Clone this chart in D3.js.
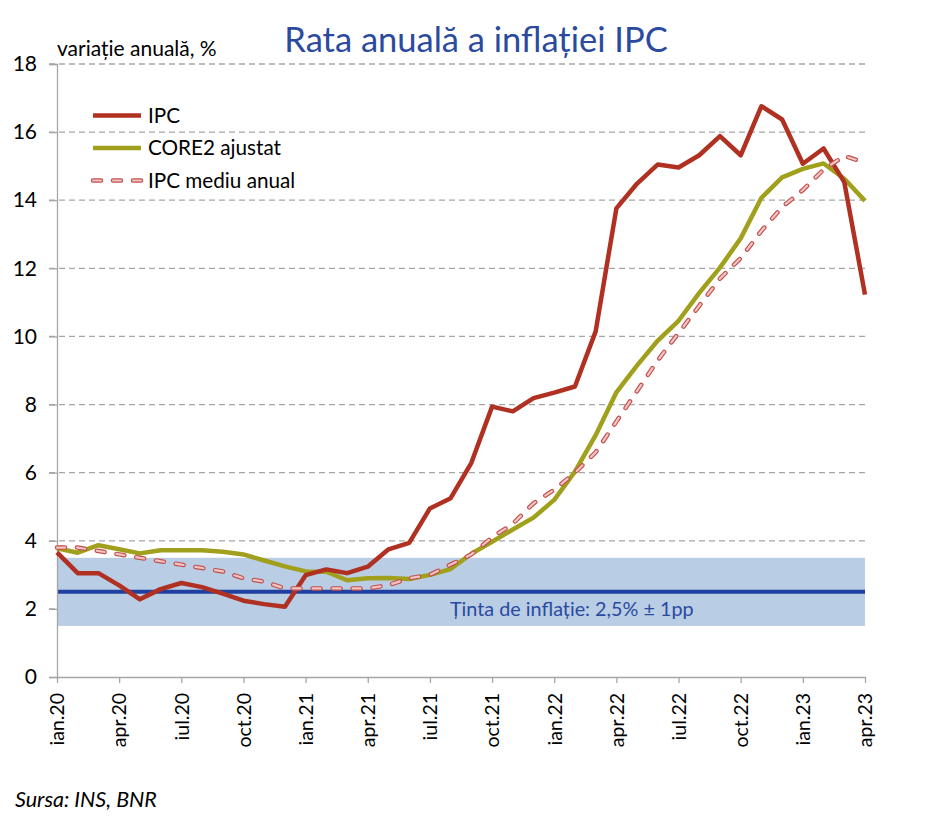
<!DOCTYPE html>
<html>
<head>
<meta charset="utf-8">
<script src="https://cdn.jsdelivr.net/npm/d3@7"></script>
<style>
  body { margin: 0; background: #fff; }
  text { font-family: Lato, "Open Sans", sans-serif; }
</style>
</head>
<body>
<script>
// months jan 2020 .. apr 2023
let monthNames = ['ian', 'feb', 'mar', 'apr', 'mai', 'iun', 'iul', 'aug', 'sep', 'oct', 'nov', 'dec'];
let months = [];
for (let yr = 20; yr <= 23; yr++) {
    monthNames.forEach(function (m) { months.push(m + '.' + yr); });
}
months = months.slice(0, 40);

let ipc = [3.66, 3.05, 3.05, 2.69, 2.28, 2.58, 2.76, 2.64, 2.45, 2.24, 2.14, 2.06,
           2.99, 3.16, 3.05, 3.24, 3.75, 3.94, 4.95, 5.25, 6.29, 7.94, 7.80, 8.19,
           8.35, 8.53, 10.15, 13.76, 14.49, 15.05, 14.96, 15.32, 15.88, 15.32, 16.76, 16.37,
           15.07, 15.52, 14.53, 11.23];

let core2 = [3.78, 3.65, 3.87, 3.75, 3.63, 3.72, 3.72, 3.72, 3.68, 3.60, 3.42, 3.25,
             3.10, 3.09, 2.84, 2.90, 2.91, 2.88, 3.00, 3.17, 3.62, 3.97, 4.33, 4.68,
             5.20, 6.03, 7.10, 8.36, 9.15, 9.88, 10.46, 11.28, 12.02, 12.88, 14.07, 14.67,
             14.92, 15.08, 14.63, 13.98];

let ipcMediu = [3.8, 3.8, 3.7, 3.6, 3.5, 3.4, 3.3, 3.2, 3.1, 2.9, 2.8, 2.6,
                2.6, 2.6, 2.6, 2.6, 2.7, 2.9, 3.0, 3.3, 3.6, 4.1, 4.5, 5.1,
                5.5, 6.0, 6.6, 7.5, 8.4, 9.3, 10.1, 10.9, 11.7, 12.3, 13.1, 13.8,
                14.3, 14.9, 15.3, 15.1];

let yTicks = [0, 2, 4, 6, 8, 10, 12, 14, 16, 18];
let xTickLabels = ['ian.20', 'apr.20', 'iul.20', 'oct.20', 'ian.21', 'apr.21', 'iul.21',
                   'oct.21', 'ian.22', 'apr.22', 'iul.22', 'oct.22', 'ian.23', 'apr.23'];

let target = 2.5;
let band = [1.5, 3.5];

let width = 932, height = 817;
let plotLeft = 57, plotRight = 865, plotTop = 64, plotBottom = 677;

let svg = d3.select('body')
    .append('svg')
        .attr('width', width)
        .attr('height', height);

let x = d3.scalePoint()
    .domain(months)
    .range([plotLeft, plotRight]);

let y = d3.scaleLinear()
    .domain([0, 18])
    .range([plotBottom, plotTop]);

// ============================================ GRID ===================================================================
svg.append('g')
    .selectAll('line')
    .data(yTicks.filter(function (d) { return d > 0; })).enter()
    .append('line')
        .attr('x1', plotLeft - 8)
        .attr('x2', plotRight)
        .attr('y1', function (d) { return y(d); })
        .attr('y2', function (d) { return y(d); })
        .attr('stroke', '#a6a6a6')
        .attr('stroke-width', 1.3)
        .attr('stroke-dasharray', '6,4');

// ============================================ BAND ===================================================================
svg.append('rect')
    .attr('x', plotLeft)
    .attr('width', plotRight - plotLeft)
    .attr('y', y(band[1]))
    .attr('height', y(band[0]) - y(band[1]))
    .attr('fill', '#b9cde5');

svg.append('line')
    .attr('x1', plotLeft)
    .attr('x2', plotRight)
    .attr('y1', y(target))
    .attr('y2', y(target))
    .attr('stroke', '#1f40a0')
    .attr('stroke-width', 4);

svg.append('text')
    .attr('x', 450)
    .attr('y', y(target) + 24)
    .attr('font-size', 19.8)
    .attr('fill', '#2a4aa0')
    .text('Ținta de inflație: 2,5% ± 1pp');

// ============================================ AXES ===================================================================
let yAxis = svg.append('g')
    .attr('transform', 'translate(' + plotLeft + ',0)')
    .call(d3.axisLeft(y).tickValues(yTicks).tickSize(8).tickPadding(12));
yAxis.select('.domain').attr('stroke', '#a6a6a6').attr('stroke-width', 1.3);
yAxis.selectAll('.tick line').attr('stroke', '#a6a6a6').attr('stroke-width', 1.3);
yAxis.selectAll('.tick text')
    .attr('font-family', 'Lato, sans-serif')
    .attr('font-size', 21)
    .attr('fill', '#000');

let xAxis = svg.append('g')
    .attr('transform', 'translate(0,' + plotBottom + ')')
    .call(d3.axisBottom(x).tickValues(xTickLabels).tickSize(6).tickSizeOuter(0));
xAxis.select('.domain').attr('stroke', '#a6a6a6').attr('stroke-width', 1.3);
xAxis.selectAll('.tick line').attr('stroke', '#a6a6a6').attr('stroke-width', 1.3);
xAxis.selectAll('.tick text')
    .attr('font-family', '"Open Sans", sans-serif')
    .attr('font-size', 19.5)
    .attr('fill', '#000')
    .attr('text-anchor', 'end')
    .attr('dy', '0.35em')
    .attr('transform', 'translate(0,16) rotate(-90)')
    .attr('x', 0)
    .attr('y', 0);

// ============================================ LINES ==================================================================
let lineGenerator = function (values) {
    return d3.line()
        .x(function (d, i) { return x(months[i]); })
        .y(function (d) { return y(d); })(values);
};

svg.append('path')
    .attr('fill', 'none')
    .attr('stroke', '#a1a01c')
    .attr('stroke-width', 4.5)
    .attr('stroke-linejoin', 'round')
    .attr('d', lineGenerator(core2));

svg.append('path')
    .attr('fill', 'none')
    .attr('stroke', '#b03022')
    .attr('stroke-width', 4.5)
    .attr('stroke-linejoin', 'round')
    .attr('d', lineGenerator(ipc));

svg.append('path')
    .attr('fill', 'none')
    .attr('stroke', '#c0504d')
    .attr('stroke-width', 4.5)
    .attr('stroke-linecap', 'round')
    .attr('stroke-dasharray', '8,12')
    .attr('d', lineGenerator(ipcMediu));

svg.append('path')
    .attr('fill', 'none')
    .attr('stroke', '#f2c4c4')
    .attr('stroke-width', 2.2)
    .attr('stroke-linecap', 'round')
    .attr('stroke-dasharray', '8,12')
    .attr('d', lineGenerator(ipcMediu));

// ============================================ LEGEND =================================================================
let legendData = [
    {name: 'IPC', color: '#b03022', dashed: false},
    {name: 'CORE2 ajustat', color: '#a1a01c', dashed: false},
    {name: 'IPC mediu anual', color: '#c0504d', dashed: true}
];

let legend = svg.append('g');
legendData.forEach(function (d, i) {
    let ly = 115.5 + i * 32.5;
    legend.append('line')
        .attr('x1', 93).attr('x2', 141)
        .attr('y1', ly).attr('y2', ly)
        .attr('stroke', d.color)
        .attr('stroke-width', 4.5)
        .attr('stroke-linecap', d.dashed ? 'round' : 'butt')
        .attr('stroke-dasharray', d.dashed ? '8,12' : null);
    if (d.dashed) {
        legend.append('line')
            .attr('x1', 93).attr('x2', 141)
            .attr('y1', ly).attr('y2', ly)
            .attr('stroke', '#f2c4c4')
            .attr('stroke-width', 2.2)
            .attr('stroke-linecap', 'round')
            .attr('stroke-dasharray', '8,12');
    }
    legend.append('text')
        .attr('x', 148)
        .attr('y', ly + 7)
        .attr('font-size', 20.7)
        .attr('fill', '#000')
        .text(d.name);
});

// ============================================ TEXT ===================================================================
svg.append('text')
    .attr('x', 476)
    .attr('y', 52)
    .attr('text-anchor', 'middle')
    .attr('font-size', 34.5)
    .attr('fill', '#2a4aa0')
    .text('Rata anuală a inflației IPC');

svg.append('text')
    .attr('x', 57)
    .attr('y', 56)
    .attr('font-size', 21)
    .attr('fill', '#000')
    .text('variație anuală, %');

svg.append('text')
    .attr('x', 15)
    .attr('y', 807)
    .attr('font-size', 21.5)
    .attr('font-style', 'italic')
    .attr('font-family', '"Open Sans", sans-serif')
    .attr('fill', '#000')
    .text('Sursa: INS, BNR');
</script>
</body>
</html>
